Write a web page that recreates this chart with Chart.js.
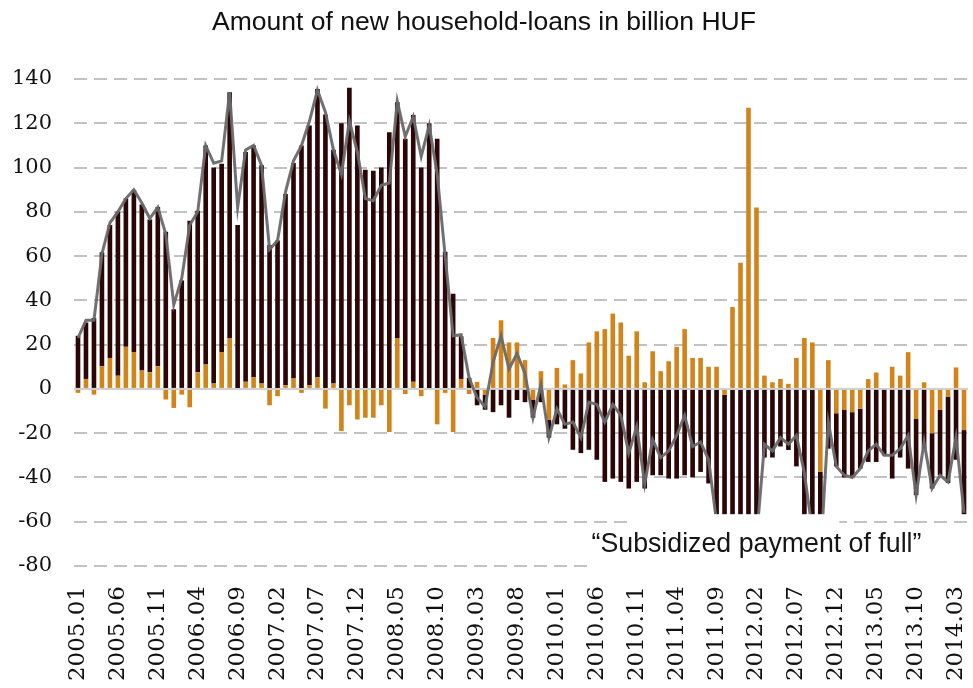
<!DOCTYPE html>
<html>
<head>
<meta charset="utf-8">
<script src="https://cdn.jsdelivr.net/npm/chart.js@4.4.1/dist/chart.umd.min.js"></script>
<style>
html,body{margin:0;padding:0;background:#fff;}
canvas{display:block;}
</style>
</head>
<body>
<canvas id="c" width="973" height="688"></canvas>
<script>
// Categories: monthly, 2005.01 .. 2014.04
const months = [];
for (let yr = 2005; yr <= 2014; yr++) {
  for (let m = 1; m <= 12; m++) {
    if (yr === 2014 && m > 4) break;
    months.push(yr + '.' + String(m).padStart(2, '0'));
  }
}

// Dark bars (billion HUF)
const darkBars = [
  24, 25.5, 32, 51.5, 60, 74, 67, 73, 75, 69,
  72, 71, 36, 49, 76, 73, 99, 97.6, 85, 111,
  74, 103.8, 104.7, 98.6, 65, 67, 86.3, 97.3, 110, 117.3,
  130.2, 124, 105.6, 120, 136, 119, 99, 98.5, 100, 116,
  106.5, 113, 120.5, 100, 120, 113, 62, 43, 19.3, 5,
  -7.4, -6.8, -10.5, -7.4, -13, -5, -6, -8, -6, -8,
  -16, -18, -27.5, -29, -27.5, -32, -42, -40.5, -42, -45,
  -42, -45, -39, -39, -40.5, -40.5, -39, -40, -37.5, -42.7,
  -70, -75, -110, -140, -200, -150, -31, -31, -26, -27.6,
  -35, -70, -85, -40, -27, -24, -30.5, -29.5, -27, -33,
  -33, -30, -40.5, -31, -36, -34.4, -27, -25, -29.5, -39,
  -32, -38
];

// Orange bars (billion HUF)
const orangeBars = [
  -1.8, 4.5, -2.6, 10.2, 14, 6, 19, 16.7, 8.3, 7.5,
  10.2, -4.8, -8.6, -2.6, -8.3, 7.5, 11, 2.4, 16.7, 23,
  0, 3.2, 5.3, 2.4, -7.4, -3.3, 1.7, 4.7, -1.8, 1.7,
  5.3, -8.9, 2.4, -19, -7.4, -13.8, -13, -13, -7.4, -19.5,
  23, -2.3, 3.2, -3.3, 0, -16, -1.8, -19.5, 4.5, -2.3,
  3.2, -2.6, 23, 31, 21, 21, 13, -5, 8, -14,
  9.5, 2, 13, 7, 21, 26, 27, 34, 30, 15,
  26, 3, 17, 8, 12.5, 19, 27, 14, 14, 10,
  10, -2.7, 37, 57, 127, 82, 6, 3, 4.5, 2.3,
  14, 23, 21, -37.5, 13, -11, -9.5, -10.5, -9, 4.4,
  7.4, 0, 10, 6, 16.6, -13.6, 3, -20, -9.5, -3.5,
  9.7, -18.6
];

// Total line (billion HUF)
const totalLine = [
  23, 31, 31, 61, 75, 80, 86, 90, 84, 77,
  82, 70, 38, 50, 74, 80, 110, 102, 103, 134,
  82, 108, 110, 101, 63, 67, 89, 103, 110, 121,
  135, 125, 108, 97, 121, 107, 86, 85, 92, 93,
  130, 114, 123, 105, 119, 97, 60, 24, 24.5, 5,
  -4, -8, 12, 24, 9, 16, 7, -13, 2, -22,
  -9, -16, -15, -22, -6, -7, -15, -7, -12, -29,
  -17, -43, -23, -31, -28, -21, -12, -26, -24, -32,
  -60, -78, -73, -83, -73, -68, -25, -28, -22, -25,
  -21, -38, -64, -77, -15, -35, -39, -40, -36, -28,
  -25, -30, -30, -27, -21, -48, -24, -45, -39, -42,
  -22, -56
];

const yTicks = [-80, -60, -40, -20, 0, 20, 40, 60, 80, 100, 120, 140];
const titleText = 'Amount of new household-loans in billion HUF';
const noteText = '\u201CSubsidized payment of full\u201D';
const narrowFont = "'Liberation Sans Narrow', 'Arial Narrow', 'Liberation Sans', sans-serif";

// pick font sizes so the texts have the widths seen in the reference
function fitSize(text, family, targetWidth) {
  const cx = document.createElement('canvas').getContext('2d');
  cx.font = '100px ' + family;
  return Math.min(30, 100 * targetWidth / cx.measureText(text).width);
}
const titleSize = fitSize(titleText, narrowFont, 544);
const noteSize = fitSize(noteText, narrowFont, 330);
const titleTop = 23 - titleSize * 0.6;
const titleBottom = 79 - titleTop - titleSize * 1.2;

const notePlugin = {
  id: 'note',
  afterDatasetsDraw(chart) {
    const {ctx, scales: {x, y}, chartArea} = chart;
    ctx.save();
    ctx.fillStyle = '#ffffff';
    // white text box of the original, covering the lower part of the plot
    const t1 = y.getPixelForValue(-56.6);
    const b1 = y.getPixelForValue(-62.5);
    const l1 = x.getPixelForValue(70) - 4;
    const r1 = x.getPixelForValue(95) + 3;
    ctx.fillRect(l1, t1, r1 - l1, b1 - t1 + 1);
    const l2 = x.getPixelForValue(64) - 1;
    const t2 = b1 - 1;
    ctx.fillRect(l2, t2, chartArea.right + 10 - l2, y.getPixelForValue(-80) + 12 - t2);
    ctx.fillStyle = '#151515';
    ctx.font = noteSize.toFixed(2) + 'px ' + narrowFont;
    ctx.textAlign = 'center';
    ctx.textBaseline = 'middle';
    ctx.fillText(noteText, x.getPixelForValue(85), y.getPixelForValue(-70.5));
    ctx.restore();
  }
};

new Chart(document.getElementById('c'), {
  type: 'bar',
  data: {
    labels: months,
    datasets: [
      {
        type: 'line', label: 'Total', data: totalLine,
        borderColor: 'rgba(105,105,105,0.95)', borderWidth: 3,
        pointRadius: 0, tension: 0, order: 0, stack: 'line'
      },
      {
        label: 'Orange', data: orangeBars, backgroundColor: '#d2841a',
        order: 1, stack: 'bars', barPercentage: 0.58, categoryPercentage: 1
      },
      {
        label: 'Dark', data: darkBars, backgroundColor: '#2a0606',
        order: 2, stack: 'bars', barPercentage: 0.58, categoryPercentage: 1
      }
    ]
  },
  options: {
    responsive: false,
    animation: false,
    devicePixelRatio: 1,
    layout: {padding: {left: 0, right: 5, top: 0, bottom: 0}},
    plugins: {
      legend: {display: false},
      tooltip: {enabled: false},
      title: {
        display: true, text: titleText, color: '#111',
        font: {family: narrowFont, size: titleSize, weight: 'normal', lineHeight: 1.2},
        padding: {top: titleTop, bottom: titleBottom}
      }
    },
    scales: {
      x: {
        stacked: true,
        grid: {display: false, drawTicks: false},
        border: {display: false},
        ticks: {
          autoSkip: false, maxRotation: 90, minRotation: 90, padding: 20,
          color: '#111', font: {family: 'DejaVu Serif', size: 23},
          callback: (v, i) => (i % 5 === 0 ? months[i] : '')
        },
        afterFit: s => { s.height = 122; s.paddingLeft = 0; s.paddingRight = 0; }
      },
      y: {
        stacked: true,
        min: -80, max: 140,
        afterBuildTicks: s => { s.ticks = yTicks.map(v => ({value: v})); },
        grid: {
          drawTicks: false, lineWidth: 2,
          color: c => (c.tick && c.tick.value === 0 ? '#d0d0d0' : '#c2c2c2')
        },
        border: {display: false, dash: c => (c.tick && c.tick.value === 0 ? [] : [13, 7])},
        ticks: {padding: 22, color: '#111', font: {family: 'DejaVu Serif', size: 21}},
        afterFit: s => { s.width = 74; }
      }
    }
  },
  plugins: [notePlugin]
});
</script>
</body>
</html>
